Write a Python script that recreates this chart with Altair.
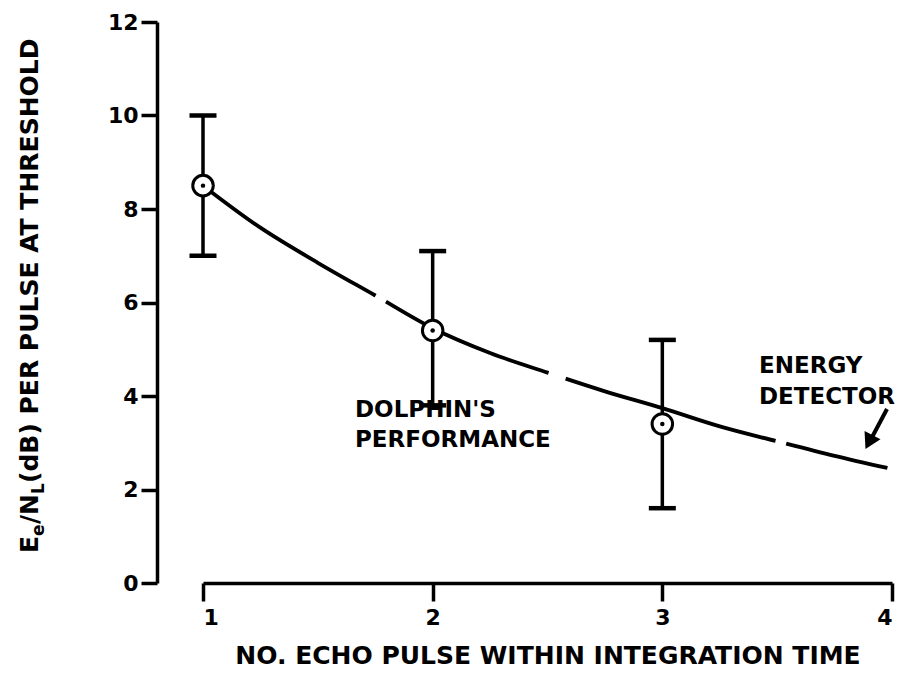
import altair as alt
import pandas as pd

# Dolphin's performance (mean with range)
pulses = [1, 2, 3]
dolphin_mean = [8.5, 5.4, 3.4]
dolphin_low = [7.0, 3.8, 1.6]
dolphin_high = [10.0, 7.1, 5.2]

# Energy detector curve
energy_x = [1.0, 1.25, 1.5, 1.75, 2.0, 2.25, 2.5, 2.75, 3.0, 3.25, 3.5, 3.75, 3.98]
energy_y = [8.5, 7.6, 6.85, 6.15, 5.45, 4.92, 4.5, 4.1, 3.74, 3.35, 3.03, 2.72, 2.46]

x_ticks = [1, 2, 3, 4]
y_ticks = [0, 2, 4, 6, 8, 10, 12]

FONT = "DejaVu Sans"

dol = pd.DataFrame({"x": pulses, "m": dolphin_mean, "lo": dolphin_low, "hi": dolphin_high})
eng = pd.DataFrame({"x": energy_x, "y": energy_y})
one = pd.DataFrame({"a": [0]})

xs = alt.Scale(domain=[1, 4], nice=False, zero=False)
ys = alt.Scale(domain=[0, 12], nice=False, zero=True)

x_axis = alt.Axis(values=x_ticks, format="d", title="NO. ECHO PULSE WITHIN INTEGRATION TIME",
                  grid=False, domainColor="black", domainWidth=3.5, tickColor="black", tickWidth=3.5,
                  tickSize=18, labelPadding=6, labelFont=FONT, labelFontSize=22, labelFontWeight="bold",
                  labelColor="black", titleFont=FONT, titleFontSize=25, titleFontWeight="bold",
                  titleColor="black", titlePadding=15)
y_axis = alt.Axis(values=y_ticks, format="d", title=None, grid=False, offset=46,
                  domainColor="black", domainWidth=3.5, tickColor="black", tickWidth=3.5,
                  tickSize=16, labelPadding=3, labelFont=FONT, labelFontSize=22,
                  labelFontWeight="bold", labelColor="black")

line = alt.Chart(eng).mark_line(color="black", strokeWidth=3.8,
                                strokeDash=[205, 12, 178, 18, 219, 11, 300],
                                interpolate="monotone").encode(
    x=alt.X("x:Q", scale=xs, axis=x_axis),
    y=alt.Y("y:Q", scale=ys, axis=y_axis),
)

bars = alt.Chart(dol).mark_rule(color="black", strokeWidth=3.5).encode(
    x="x:Q", y="lo:Q", y2="hi:Q")
caps_hi = alt.Chart(dol).mark_tick(color="black", orient="horizontal", size=27, thickness=4.5,
                                   opacity=1).encode(x="x:Q", y="hi:Q")
caps_lo = alt.Chart(dol).mark_tick(color="black", orient="horizontal", size=27, thickness=4.5,
                                   opacity=1).encode(x="x:Q", y="lo:Q")
circles = alt.Chart(dol).mark_point(shape="circle", size=420, filled=False, fill="white",
                                    fillOpacity=1, stroke="black", strokeWidth=3, opacity=1).encode(
    x="x:Q", y="m:Q")
dots = alt.Chart(dol).mark_point(shape="circle", size=20, filled=True, color="black", opacity=1).encode(
    x="x:Q", y="m:Q")

def txt(text, x, y, size=23, angle=0, align="left", baseline="top", lh=None):
    kw = dict(text=text, font=FONT, fontSize=size, fontWeight="bold", color="black",
              align=align, baseline=baseline, angle=angle)
    if lh is not None:
        kw["lineHeight"] = lh
    return alt.Chart(one).mark_text(**kw).encode(x=alt.value(x), y=alt.value(y))

dolphin_lbl = txt(["DOLPHIN'S", "PERFORMANCE"], 152, 377, lh=30)
energy_lbl = txt(["ENERGY", "DETECTOR"], 556, 333, lh=31)

arrow_shaft = alt.Chart(one).mark_rule(color="black", strokeWidth=4).encode(
    x=alt.value(684), y=alt.value(387), x2=alt.value(667), y2=alt.value(419))
arrow_head = alt.Chart(one).mark_point(shape="triangle-down", size=320, filled=True, color="black",
                                       opacity=1, angle=27).encode(
    x=alt.value(666), y=alt.value(420))

# composed y-axis title with subscripts (rotated, reading upward)
bx = -165
sx = -159
ytitle = [
    txt("E", bx, 531, size=25, angle=270, baseline="alphabetic"),
    txt("e", sx, 514, size=17, angle=270, baseline="alphabetic"),
    txt("/", bx, 502, size=25, angle=270, baseline="alphabetic"),
    txt("N", bx, 493, size=25, angle=270, baseline="alphabetic"),
    txt("L", sx, 472, size=17, angle=270, baseline="alphabetic"),
    txt("(dB) PER PULSE AT THRESHOLD", bx, 461, size=25, angle=270, baseline="alphabetic"),
]

chart = alt.layer(line, bars, caps_hi, caps_lo, circles, dots, dolphin_lbl, energy_lbl,
                  arrow_shaft, arrow_head, *ytitle).properties(
    width=689, height=561,
    padding={"left": 203, "top": 22, "right": 12, "bottom": 110},
    autosize="none",
    background="white",
).configure_view(stroke=None)

chart.save("out.html", embed_options={"renderer": "svg", "actions": False})
